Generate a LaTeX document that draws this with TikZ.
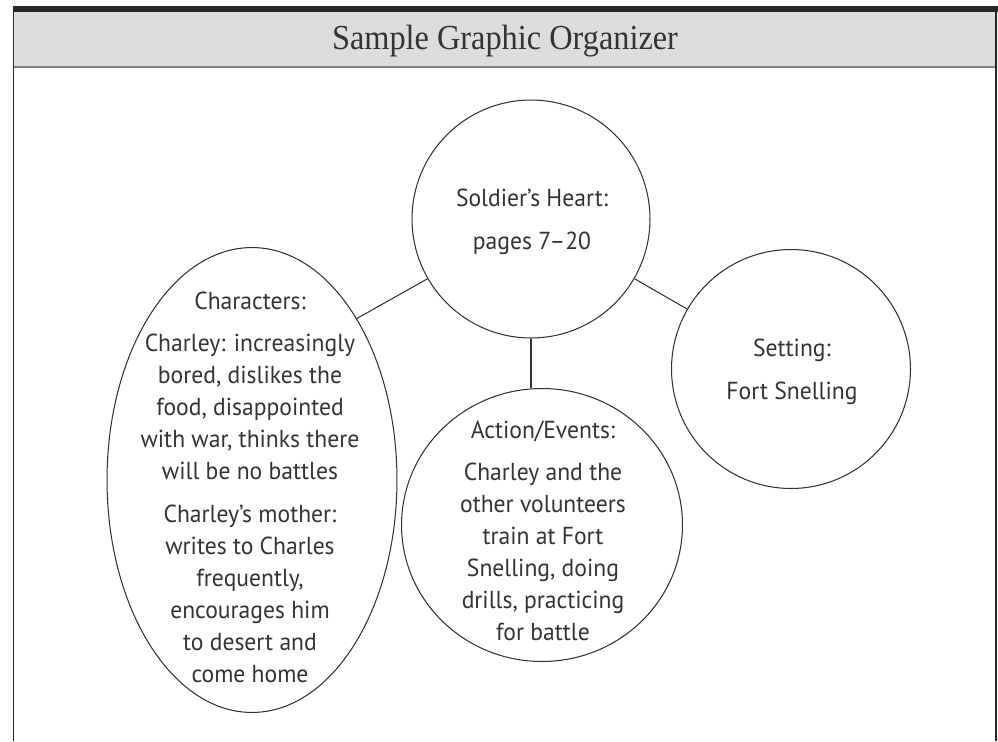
\documentclass[tikz,border=0pt]{standalone}
\usepackage{fontspec}
\setmainfont{Liberation Serif}
\newfontfamily\titlefont[FakeStretch=0.92]{Liberation Serif}
\newfontfamily\handfont[FakeStretch=0.96]{PT Sans}
\usetikzlibrary{shapes.geometric}
\definecolor{ink}{HTML}{333333}
\definecolor{headgray}{HTML}{DCDDDF}
\begin{document}
\begin{tikzpicture}[x=0.02cm, y=-0.02cm,
        bubble/.style={draw=ink, line width=0.6pt},
        txt/.style={font=\handfont\fontsize{14}{18.2}\selectfont, align=center, inner sep=0pt, text=ink},
        link/.style={draw=ink, line width=0.6pt}]
                \useasboundingbox (0,0) rectangle (998,741) ;
                % header band and frame
                \fill [headgray] (14,12) rectangle (996,67) ;
                \draw [gray, line width=0.8pt] (14,67) -- (996,67) ;
                \fill [black!85] (13,6) rectangle (998,12) ;
                \draw [black!85, line width=0.9pt] (13.5,12) -- (13.5,741) ;
                \draw [black!85, line width=0.9pt] (996,12) -- (996,741) ;
                \node [font=\titlefont\fontsize{20}{24}\selectfont, text=ink] (title) at (505,41) {Sample Graphic Organizer} ;
                % bubbles
                \node [bubble, circle, minimum size=4.76cm] (top) at (531,219) {} ;
                \node [bubble, circle, minimum size=4.78cm] (setting) at (791,369) {} ;
                \node [bubble, ellipse, minimum width=5.62cm, minimum height=5.46cm] (act) at (542,525) {} ;
                \node [bubble, ellipse, minimum width=5.8cm, minimum height=9.3cm] (chars) at (252,480) {} ;
                \node [txt] (toptext) at (532,222) {Soldier’s Heart:\\[6pt] pages 7–20} ;
                \node [txt] (settingtext) at (792,372) {Setting:\\[6pt] Fort Snelling} ;
                \node [txt] (acttext) at (543,531) {Action/Events:\\[6pt] Charley and the\\ other volunteers\\ train at Fort\\ Snelling, doing\\ drills, practicing\\ for battle} ;
                \node [txt] (charstext) at (250,487) {Characters:\\[6pt] Charley: increasingly\\ bored, dislikes the\\ food, disappointed\\ with war, thinks there\\ will be no battles\\[6pt] Charley’s mother:\\ writes to Charles\\ frequently,\\ encourages him\\ to desert and\\ come home} ;
                % links
                \draw [link] (top) -- (setting) ;
                \draw [link] (top.210) -- (chars.57) ;
                \draw [link] (top.south) -- (top.south |- act.north) ;
\end{tikzpicture}
\end{document}
